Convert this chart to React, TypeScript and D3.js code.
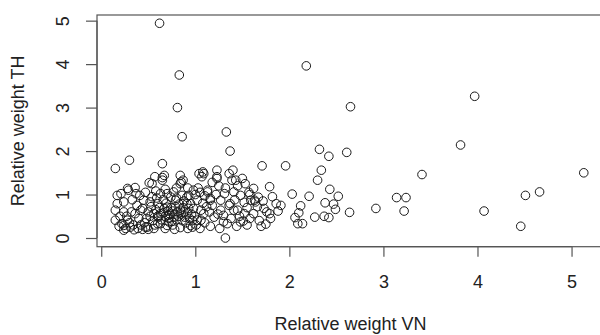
import React, { useEffect, useRef } from 'react';
import * as d3 from 'd3';

// [relative weight VN, relative weight TH]
const points: [number, number][] = [
  // sparse / outlying points
  [0.62, 4.94], [0.83, 3.75], [0.81, 3.0], [0.86, 2.33], [2.18, 3.96], [3.97, 3.26], [2.65, 3.02],
  [1.33, 2.44], [1.37, 2.0], [3.82, 2.14], [2.32, 2.04], [2.42, 1.88], [2.61, 1.97], [1.71, 1.66],
  [1.96, 1.66], [2.34, 1.56], [2.3, 1.33], [3.41, 1.46], [5.13, 1.5], [1.79, 1.18], [2.03, 1.01],
  [2.21, 0.96], [2.43, 1.12], [2.52, 0.96], [4.66, 1.06], [4.51, 0.98], [3.14, 0.93], [3.24, 0.93],
  [2.92, 0.68], [3.22, 0.62], [4.07, 0.62], [2.64, 0.59], [4.46, 0.27], [2.12, 0.74], [2.1, 0.58],
  [2.06, 0.47], [2.09, 0.33], [2.14, 0.33], [2.27, 0.48], [2.37, 0.5], [2.42, 0.47], [2.38, 0.81],
  [2.47, 0.78], [2.49, 0.66], [1.91, 0.75], [1.86, 0.79], [1.79, 0.56], [1.75, 0.32], [1.7, 0.27],
  [1.73, 0.68], [1.67, 0.94], [1.62, 1.14], [1.63, 0.87], [1.32, 0.0],
  // upper part of the cluster
  [0.15, 1.6], [0.3, 1.79], [0.65, 1.71], [0.57, 1.41], [0.51, 1.27], [0.67, 1.44], [0.65, 1.33],
  [0.84, 1.44], [0.85, 1.29], [1.04, 1.48], [0.54, 1.25], [0.65, 1.39], [0.84, 1.25], [1.09, 1.48],
  [1.08, 1.52], [1.07, 1.41], [0.87, 1.33],
  // x 1.0 - 1.9
  [1.44, 0.27], [1.51, 0.39], [1.52, 0.56], [1.4, 1.56], [1.5, 1.37], [1.53, 1.25], [1.23, 1.56],
  [1.23, 1.37], [1.36, 1.48], [1.39, 1.33], [1.31, 1.02], [1.13, 1.06], [1.41, 1.06], [1.48, 0.98],
  [1.59, 0.87], [1.64, 0.83], [1.16, 0.87], [1.27, 0.87], [1.36, 0.75], [1.41, 0.64], [1.09, 0.56],
  [1.2, 0.48], [1.3, 0.37], [1.16, 0.27], [1.06, 0.41], [1.23, 1.41], [1.43, 1.33], [1.13, 1.1],
  [1.16, 0.91], [1.06, 0.64], [1.27, 0.64], [1.37, 0.79], [1.45, 0.64], [1.34, 0.33], [1.48, 0.37],
  [1.62, 0.56], [1.76, 0.6], [1.22, 1.0], [1.0, 1.0], [1.26, 0.22], [1.12, 0.72], [1.55, 0.7],
  [1.47, 0.5], [1.58, 0.45], [1.25, 1.2], [1.18, 1.28], [1.03, 1.15], [1.32, 1.15], [1.45, 1.2],
  [1.57, 1.05], [1.68, 0.4], [1.8, 0.45], [1.72, 0.85], [1.82, 0.95], [1.66, 0.72], [1.58, 1.0],
  [1.55, 0.3], [1.88, 0.62], [1.1, 0.35], [1.15, 0.6], [1.24, 0.55], [1.18, 0.75], [1.08, 0.8],
  [1.3, 0.52], [1.38, 0.45], [1.42, 0.88], [1.52, 0.82], [1.1, 0.97], [1.05, 0.22],
  // left part of the cluster
  [0.17, 0.98], [0.21, 1.02], [0.29, 1.1], [0.36, 1.16], [0.37, 1.02], [0.33, 0.88], [0.17, 0.79],
  [0.15, 0.64], [0.24, 0.6], [0.15, 0.41], [0.22, 0.33], [0.24, 0.18], [0.31, 0.25], [0.35, 0.19],
  [0.28, 0.41], [0.36, 0.56], [0.45, 0.87], [0.44, 0.68], [0.49, 0.25], [0.48, 0.45], [0.56, 0.56],
  [0.6, 0.79], [0.61, 0.48], [0.67, 0.68], [0.7, 1.02], [0.77, 1.06], [0.79, 0.87], [0.86, 0.98],
  [0.93, 0.98], [0.91, 0.79], [0.88, 0.6], [0.77, 0.48], [0.72, 0.37], [0.84, 0.24], [0.97, 0.25],
  [1.02, 0.41], [0.98, 0.68], [1.02, 0.87], [0.63, 0.33], [0.56, 0.22], [0.28, 1.14], [0.24, 0.83],
  [0.24, 0.29], [0.47, 0.25], [0.42, 0.64], [0.52, 0.83], [0.63, 1.02], [0.74, 0.94], [0.7, 0.71],
  [0.63, 0.56], [0.84, 0.64], [0.95, 0.79], [0.91, 0.94], [0.98, 1.1], [0.95, 0.29], [0.7, 0.29],
  [0.6, 0.33],
  // dense core
  [0.5, 0.6], [0.53, 0.72], [0.55, 0.4], [0.58, 0.65], [0.6, 0.5], [0.62, 0.7], [0.64, 0.42],
  [0.66, 0.58], [0.68, 0.5], [0.69, 0.8], [0.71, 0.62], [0.72, 0.45], [0.73, 0.55], [0.74, 0.7],
  [0.75, 0.38], [0.76, 0.62], [0.78, 0.55], [0.79, 0.72], [0.8, 0.42], [0.81, 0.6], [0.82, 0.5],
  [0.83, 0.78], [0.85, 0.55], [0.86, 0.4], [0.87, 0.7], [0.89, 0.48], [0.9, 0.35], [0.92, 0.58],
  [0.94, 0.45], [0.96, 0.55], [0.99, 0.5], [1.01, 0.3], [0.46, 0.35], [0.52, 0.5], [0.57, 0.3],
  [0.59, 0.92], [0.66, 0.88], [0.71, 0.52], [0.76, 0.3], [0.8, 0.92], [0.88, 0.85], [0.93, 0.68],
  [0.97, 0.4], [0.4, 0.45], [0.42, 0.3], [0.38, 0.75], [0.32, 0.6], [0.3, 0.35], [0.27, 0.5],
  [0.2, 0.5], [0.19, 0.27], [0.26, 0.22], [0.34, 0.3], [0.39, 0.22], [0.44, 0.2], [0.54, 0.95],
  [0.47, 1.05], [0.58, 1.08], [0.41, 0.98], [0.68, 1.12], [0.8, 1.15], [0.92, 1.15], [1.05, 1.05],
  [0.5, 0.2], [0.68, 0.22], [0.78, 0.2], [0.92, 0.22],
];

const xTicks = [0, 1, 2, 3, 4, 5];
const yTicks = [0, 1, 2, 3, 4, 5];
const xLabel = 'Relative weight VN';
const yLabel = 'Relative weight TH';

const FONT = '"Liberation Sans", Arial, Helvetica, sans-serif';

const App: React.FC = () => {
  const svgRef = useRef<SVGSVGElement>(null);

  useEffect(() => {
    document.body.style.margin = '0';
    if (!svgRef.current) return;
    const svg = d3.select(svgRef.current);
    svg.selectAll('*').remove();

    const left = 97, right = 604, top = 15, bottom = 246.7;

    const x = d3.scaleLinear().domain([-0.045, 5.345]).range([left, right]);
    const y = d3.scaleLinear().domain([-0.2, 5.13]).range([bottom, top]);

    const axisColor = '#555';
    const textColor = '#222';

    // plot box
    svg.append('rect')
      .attr('x', left).attr('y', top)
      .attr('width', right - left).attr('height', bottom - top)
      .attr('fill', 'none').attr('stroke', axisColor).attr('stroke-width', 1.2);

    // x axis
    const gx = svg.append('g')
      .attr('transform', `translate(0,${bottom})`)
      .call(d3.axisBottom(x).tickValues(xTicks).tickFormat(d3.format('d')).tickSize(10).tickSizeOuter(0));
    gx.select('.domain').remove();
    gx.append('line')
      .attr('x1', x(xTicks[0])).attr('x2', x(xTicks[xTicks.length - 1]))
      .attr('stroke', axisColor).attr('stroke-width', 1.2);
    gx.selectAll('.tick line').attr('stroke', axisColor).attr('stroke-width', 1.2);
    gx.selectAll('.tick text')
      .attr('y', 35).attr('dy', '0.35em')
      .attr('fill', textColor)
      .style('font-family', FONT).style('font-size', '18px');

    // y axis
    const gy = svg.append('g')
      .attr('transform', `translate(${left},0)`)
      .call(d3.axisLeft(y).tickValues(yTicks).tickFormat(d3.format('d')).tickSize(11).tickSizeOuter(0));
    gy.select('.domain').remove();
    gy.append('line')
      .attr('y1', y(yTicks[0])).attr('y2', y(yTicks[yTicks.length - 1]))
      .attr('stroke', axisColor).attr('stroke-width', 1.2);
    gy.selectAll('.tick line').attr('stroke', axisColor).attr('stroke-width', 1.2);
    gy.selectAll('.tick text')
      .attr('transform', 'rotate(-90)')
      .attr('x', 0).attr('y', -34).attr('dy', '0.35em')
      .attr('text-anchor', 'middle')
      .attr('fill', textColor)
      .style('font-family', FONT).style('font-size', '18px');

    // axis titles
    svg.append('text')
      .attr('x', (left + right) / 2)
      .attr('y', 324).attr('dy', '0.35em')
      .attr('text-anchor', 'middle')
      .attr('fill', textColor)
      .style('font-family', FONT).style('font-size', '18px')
      .text(xLabel);

    svg.append('text')
      .attr('transform', `translate(18,${(top + bottom) / 2}) rotate(-90)`)
      .attr('dy', '0.35em')
      .attr('text-anchor', 'middle')
      .attr('fill', textColor)
      .style('font-family', FONT).style('font-size', '18px')
      .text(yLabel);

    // points
    svg.append('g')
      .selectAll('circle')
      .data(points)
      .enter()
      .append('circle')
      .attr('cx', d => x(d[0]))
      .attr('cy', d => y(d[1]))
      .attr('r', 4.3)
      .attr('fill', 'none')
      .attr('stroke', '#1a1a1a')
      .attr('stroke-width', 1);
  }, []);

  return <svg ref={svgRef} width={600} height={335} style={{ display: 'block' }} />;
};

export default App;
